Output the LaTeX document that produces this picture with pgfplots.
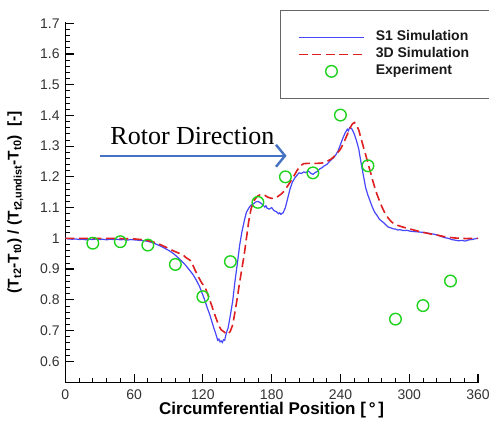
\documentclass[border=0pt]{standalone}
\usepackage{fontspec}
\setmainfont{Liberation Sans}
\newfontfamily\timesfont{Liberation Serif}
\usepackage{pgfplots}
\usepackage{pgfplotstable}
\pgfplotsset{compat=1.18}
\usetikzlibrary{arrows.meta}

\definecolor{simblue}{RGB}{70,70,250}
\definecolor{simred}{RGB}{222,32,32}
\definecolor{expgreen}{RGB}{30,210,30}
\definecolor{arrowblue}{RGB}{70,114,196}

% S1 simulation
\pgfplotstableread{
x y
0 1.000
3 0.998
6 0.997
9 0.998
12 0.996
15 0.997
18 0.995
21 0.997
24 0.996
27 0.998
30 0.996
33 0.997
36 0.995
39 0.997
42 0.996
45 0.997
48 0.995
51 0.996
54 0.994
57 0.996
60 0.995
63 0.994
66 0.993
69 0.992
72 0.990
75 0.987
78 0.983
81 0.978
84 0.973
87 0.967
90 0.961
93 0.954
96 0.945
99 0.935
102 0.924
105 0.912
108 0.898
111 0.884
114 0.866
117 0.844
120 0.815
122 0.795
124 0.772
126 0.752
128 0.727
130 0.703
131 0.692
132 0.680
133 0.668
134 0.672
135 0.663
136 0.666
137 0.661
138 0.670
139 0.668
140 0.684
141 0.698
142 0.708
144 0.750
146 0.795
148 0.860
150 0.915
152 0.975
154 1.020
156 1.055
158 1.085
160 1.098
162 1.108
164 1.112
166 1.118
168 1.120
170 1.116
172 1.110
174 1.102
175 1.106
176 1.098
178 1.095
180 1.100
182 1.090
184 1.087
186 1.080
187 1.083
188 1.078
190 1.083
192 1.100
194 1.130
196 1.160
198 1.182
200 1.195
202 1.205
204 1.213
206 1.211
208 1.216
210 1.214
212 1.219
214 1.212
216 1.208
218 1.214
220 1.218
222 1.226
224 1.230
226 1.236
228 1.240
230 1.248
232 1.256
234 1.262
236 1.272
238 1.285
240 1.305
242 1.325
244 1.342
246 1.355
247 1.350
248 1.360
250 1.356
252 1.340
254 1.318
256 1.290
258 1.245
260 1.205
262 1.165
264 1.140
266 1.120
268 1.100
270 1.084
272 1.074
274 1.062
276 1.056
278 1.050
280 1.042
282 1.036
284 1.034
286 1.031
288 1.030
290 1.027
292 1.028
295 1.025
298 1.026
301 1.023
304 1.022
307 1.021
310 1.020
313 1.019
316 1.017
319 1.015
322 1.013
325 1.010
328 1.006
331 1.002
334 1.000
337 0.996
340 0.994
343 0.992
346 0.993
349 0.991
352 0.995
355 0.996
358 0.999
360 1.000
}\sonedata

% 3D simulation
\pgfplotstableread{
x y
0 1.000
10 1.000
20 1.000
30 1.000
40 1.000
50 0.999
60 0.998
66 0.996
70 0.994
75 0.990
80 0.984
85 0.976
90 0.967
95 0.958
100 0.950
103 0.945
105 0.938
107 0.933
109 0.928
111 0.915
113 0.898
116 0.875
119 0.855
122 0.840
125 0.810
128 0.778
131 0.745
134 0.715
136 0.702
138 0.697
140 0.690
142 0.688
144 0.698
146 0.718
148 0.760
150 0.805
152 0.855
154 0.900
156 0.945
158 1.000
160 1.055
162 1.095
164 1.118
166 1.130
168 1.138
170 1.142
172 1.143
174 1.140
176 1.135
178 1.132
180 1.130
182 1.130
184 1.132
186 1.138
188 1.143
190 1.150
193 1.165
196 1.182
199 1.200
202 1.220
205 1.236
208 1.243
212 1.244
216 1.244
220 1.244
224 1.245
228 1.250
232 1.258
236 1.272
240 1.290
243 1.312
246 1.338
248 1.356
250 1.370
252 1.377
254 1.370
256 1.352
258 1.325
260 1.298
262 1.272
264 1.245
266 1.218
268 1.190
270 1.165
272 1.142
274 1.122
276 1.104
278 1.088
280 1.075
282 1.064
284 1.056
286 1.049
290 1.042
295 1.036
300 1.031
305 1.026
310 1.021
315 1.017
320 1.013
325 1.010
330 1.006
335 1.003
340 1.001
345 1.000
350 0.999
355 1.000
360 1.000
}\threeddata

% Measurements
\pgfplotstableread{
x y
24 0.984
48 0.989
72 0.978
96 0.915
120 0.810
144 0.924
168 1.117
192 1.200
216 1.213
240 1.401
264 1.236
288 0.737
312 0.781
336 0.861
}\expdata

\begin{document}
\begin{tikzpicture}
\begin{axis}[
  scale only axis,
  width=412.7pt, height=361pt,
  xmin=0, xmax=360, ymin=0.53, ymax=1.705,
  axis x line*=bottom, axis y line*=left,
  axis line style={-, line width=1.3pt, black},
  xtick={0,60,...,360},
  ytick={0.6,0.7,0.8,0.9,1,1.1,1.2,1.3,1.4,1.5,1.6,1.7},
  minor x tick num=4, minor y tick num=4,
  tick align=inside,
  major tick length=8.5pt, minor tick length=4.5pt,
  every major tick/.style={line width=1.1pt, black},
  every minor tick/.style={line width=0.7pt, black},
  /pgf/number format/assume math mode=true,
  tick label style={font=\fontsize{14}{16}\selectfont, text=black!80},
  yticklabel style={inner sep=0pt, anchor=east, xshift=-5.5pt},
  xticklabel style={inner sep=0pt, anchor=north, yshift=-6.5pt},
  xlabel={\textbf{Circumferential Position [\,°\,]}},
  every axis x label/.style={at={(axis description cs:0.5,-0.0875)}, anchor=base,
    inner sep=0pt, font=\fontsize{17}{19}\selectfont},
  ylabel={\textbf{(T\textsubscript{t2}-T\textsubscript{t0}) / (T\textsubscript{t2,undist}-T\textsubscript{t0})\ \ [-]}},
  every axis y label/.style={at={(axis description cs:-0.1212,0.5)}, anchor=center, rotate=90,
    inner sep=0pt, font=\fontsize{15.5}{17}\selectfont},
  legend image code/.code={\draw[mark repeat=2,mark phase=2,#1] plot coordinates {(0pt,0pt) (32.5pt,0pt) (65pt,0pt)};},
  legend cell align=left,
  legend style={name=lgd, at={(axis description cs:0.5202,1.032)}, anchor=north west,
    draw=none, fill=white,
    inner xsep=18pt, inner ysep=20.5pt, column sep=11pt, row sep=4pt,
    nodes={inner sep=0pt, text height=10pt, text depth=3pt,
      font=\fontsize{14}{16}\selectfont\bfseries, text=black!90}},
  clip=false,
]
\addplot[simblue, line width=1.2pt] table {\sonedata};
\addlegendentry{\makebox[125pt][l]{S1 Simulation}}
\addplot[simred, line width=1.6pt, dash pattern=on 9pt off 4.5pt] table {\threeddata};
\addlegendentry{3D Simulation}
\addplot[only marks, mark=o, mark size=5.8pt, expgreen, line width=1.4pt] table {\expdata};
\addlegendentry{Experiment}

\node[anchor=base, font=\timesfont\fontsize{26}{28}\selectfont] at (axis cs:110.9,1.3067) {Rotor Direction};
\draw[arrowblue, line width=2.4pt, -{Straight Barb[length=9pt, width=22pt, line width=2.4pt]}]
  (axis cs:30.25,1.2686) -- (axis cs:193.0,1.2686);
\end{axis}
% legend frame, open on the right where it runs past the page edge
\draw[black!60, line width=0.8pt] ([xshift=40pt]lgd.north east) -- (lgd.north west)
  -- (lgd.south west) -- ([xshift=40pt]lgd.south east);
\pgfresetboundingbox
\useasboundingbox (-65.3pt,-38.3pt) rectangle (423.7pt,382.7pt);
\end{tikzpicture}
\end{document}
